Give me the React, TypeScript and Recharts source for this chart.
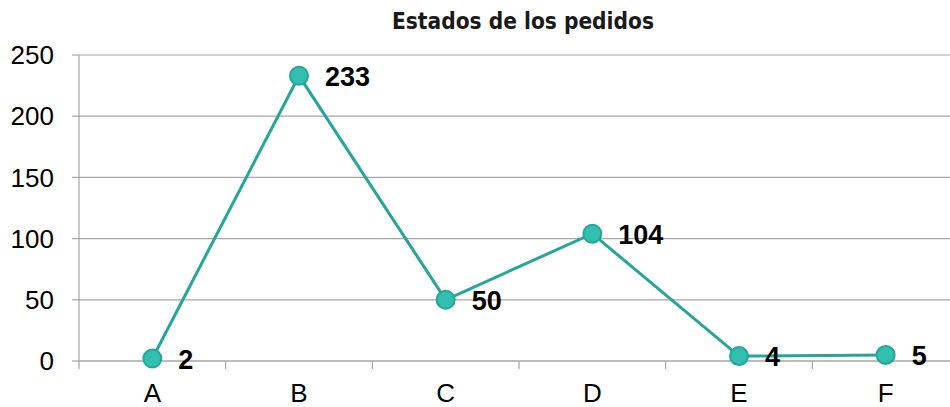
import { LineChart, Line, XAxis, YAxis, CartesianGrid, LabelList } from 'recharts';

const categories = ['A', 'B', 'C', 'D', 'E', 'F'];
const pedidos = [2, 233, 50, 104, 4, 5];
const yTicks = [0, 50, 100, 150, 200, 250];

const data = categories.map((name, i) => ({ name, pedidos: pedidos[i] }));

const TEAL = '#25a698';
const DOT_FILL = '#33bfb0';
const GRID = '#a6a6a6';
const PLOT_W = 880;
const HALF_BAND = PLOT_W / categories.length / 2;

const XTick = (props: any) => {
  const { x, y, payload } = props;
  const left = x - HALF_BAND;
  return (
    <g>
      <line x1={left} y1={y} x2={left} y2={y + 8} stroke={GRID} strokeWidth={1.2} />
      <text
        x={x}
        y={y + 32}
        textAnchor="middle"
        dominantBaseline="central"
        fontFamily="'Liberation Sans', Arial, sans-serif"
        fontSize={26}
        fill="#000"
      >
        {payload.value}
      </text>
    </g>
  );
};

const ValueLabel = (props: any) => {
  const { x, y, value } = props;
  return (
    <text
      x={x + 26}
      y={y + 1}
      dominantBaseline="central"
      fontFamily="'Liberation Sans', Arial, sans-serif"
      fontWeight="bold"
      fontSize={27}
      fill="#000"
    >
      {value}
    </text>
  );
};

export default function App() {
  return (
    <div style={{ position: 'absolute', left: 0, top: 0, width: 950, height: 407, overflow: 'hidden', background: '#fff' }}>
      <LineChart
        width={960}
        height={407}
        data={data}
        margin={{ top: 55, right: 1, bottom: 0, left: 0 }}
      >
        <text
          x={523}
          y={21}
          textAnchor="middle"
          dominantBaseline="central"
          fontFamily="'DejaVu Sans Condensed', 'DejaVu Sans', sans-serif"
          fontStretch="condensed"
          fontWeight="bold"
          fontSize={22.5}
          fill="#1a1a1a"
        >
          Estados de los pedidos
        </text>
        <CartesianGrid vertical={false} stroke={GRID} strokeWidth={1.2} />
        <XAxis
          dataKey="name"
          height={46}
          padding={{ left: HALF_BAND, right: HALF_BAND }}
          axisLine={{ stroke: GRID, strokeWidth: 1.2 }}
          tickLine={false}
          tickSize={0}
          tickMargin={0}
          tick={<XTick />}
          interval={0}
        />
        <YAxis
          width={79}
          domain={[0, 250]}
          ticks={yTicks}
          axisLine={{ stroke: GRID, strokeWidth: 1.2 }}
          tickLine={{ stroke: GRID, strokeWidth: 1.2 }}
          tickSize={7}
          tickMargin={18}
          tick={{ fill: '#000', fontSize: 26, fontFamily: "'Liberation Sans', Arial, sans-serif" }}
        />
        <Line
          type="linear"
          dataKey="pedidos"
          stroke={TEAL}
          strokeWidth={3}
          dot={{ r: 9, fill: DOT_FILL, stroke: TEAL, strokeWidth: 2 }}
          activeDot={false}
          isAnimationActive={false}
        >
          <LabelList dataKey="pedidos" content={<ValueLabel />} />
        </Line>
      </LineChart>
    </div>
  );
}
